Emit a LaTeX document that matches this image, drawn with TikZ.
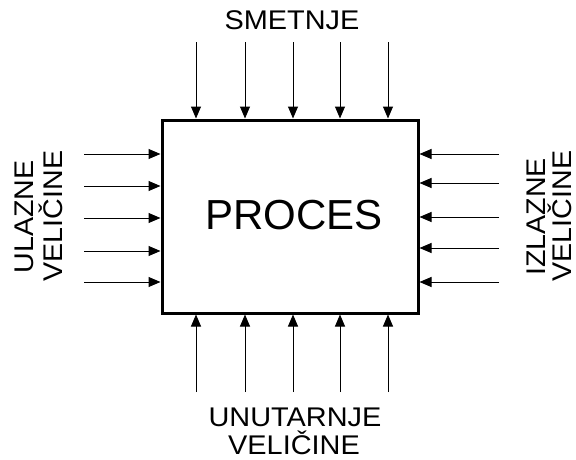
\documentclass[tikz,border=0pt]{standalone}
\usepackage{fontspec}
\setmainfont{Liberation Sans}
\usetikzlibrary{arrows.meta}
\begin{document}
\begin{tikzpicture}[x=1pt,y=-1pt,
  conn/.style={line width=1pt,-{Triangle[length=12pt,width=10pt]}},
  lbl/.style={inner sep=0pt,anchor=base,text depth=0pt,font=\fontsize{27}{30}\selectfont},
  big/.style={inner sep=0pt,font=\fontsize{42}{46}\selectfont}]
\useasboundingbox (0,0) rectangle (576,459);
\node[draw,line width=3pt,minimum width=256pt,minimum height=193pt,inner sep=0pt] (proc) at (290,216.5) {};
\node[big] (ptext) at (294,215) {PROCES};
% top
\foreach \i/\x in {1/196,2/245,3/293,4/340,5/388}{
  \coordinate (t\i) at (\x,42);
  \draw[conn] (t\i) -- (t\i |- proc.north);
  \coordinate (b\i) at (\x,392);
  \draw[conn] (b\i) -- (b\i |- proc.south);
}
\foreach \i/\y in {1/154,2/186,3/218,4/251,5/282}{
  \coordinate (l\i) at (84,\y);
  \draw[conn] (l\i) -- (l\i -| proc.west);
}
\foreach \i/\y in {1/154,2/183,3/217,4/248,5/282}{
  \coordinate (r\i) at (499,\y);
  \draw[conn] (r\i) -- (r\i -| proc.east);
}
\node[lbl,xscale=1.07] (smet) at (292,29) {SMETNJE};
\node[lbl,xscale=1.07] (un1) at (295,426) {UNUTARNJE};
\node[lbl,xscale=1.07] (un2) at (294,454.5) {VELIČINE};
\node[lbl,rotate=90,xscale=1.06] (ul1) at (33,217) {ULAZNE};
\node[lbl,rotate=90,xscale=1.06] (ul2) at (62,216) {VELIČINE};
\node[lbl,rotate=90,xscale=1.06] (iz1) at (545,217) {IZLAZNE};
\node[lbl,rotate=90,xscale=1.06] (iz2) at (571,216) {VELIČINE};
\end{tikzpicture}
\end{document}
